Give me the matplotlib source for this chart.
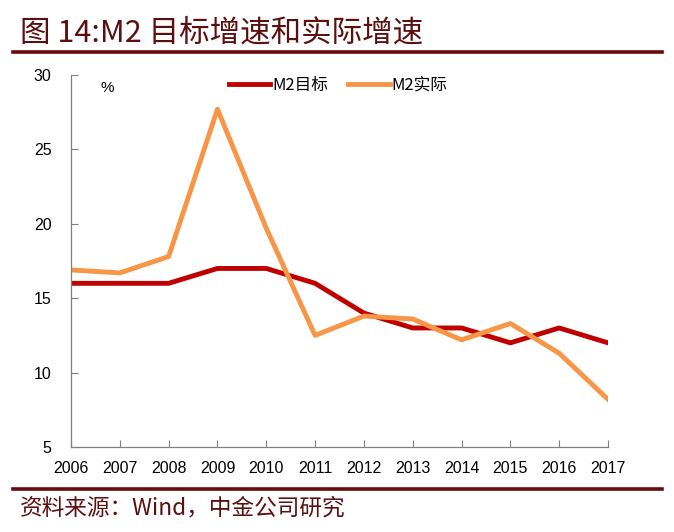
import matplotlib
matplotlib.use("Agg")
import matplotlib.pyplot as plt
from matplotlib.lines import Line2D

plt.rcParams['font.family'] = ['Liberation Sans', 'Noto Sans CJK SC', 'DejaVu Sans']

years = ['2006', '2007', '2008', '2009', '2010', '2011', '2012', '2013', '2014', '2015', '2016', '2017']
m2_target = [16, 16, 16, 17, 17, 16, 14, 13, 13, 12, 13, 12]
m2_actual = [16.9, 16.7, 17.8, 27.7, 19.7, 12.5, 13.8, 13.6, 12.2, 13.3, 11.3, 8.2]
yticks = [5, 10, 15, 20, 25, 30]

fig = plt.figure(figsize=(6.74, 5.32), dpi=100)
ax = fig.add_axes([71/674, 1-447/532, (608-71)/674, (447-75)/532])

x = list(range(len(years)))
ax.plot(x, m2_target, color='#C00000', lw=3.5, label='M2目标', solid_joinstyle='round')
ax.plot(x, m2_actual, color='#F79646', lw=3.5, label='M2实际', solid_joinstyle='round')

ax.set_xlim(0, len(years) - 1)
ax.set_ylim(5, 30)
ax.set_xticks(x)
ax.set_xticklabels(years)
ax.set_yticks(yticks)
ax.set_yticklabels([str(v) for v in yticks])

for s in ['top', 'right']:
    ax.spines[s].set_visible(False)
for s in ['left', 'bottom']:
    ax.spines[s].set_color('#808080')
    ax.spines[s].set_linewidth(0.9)
ax.tick_params(axis='both', direction='in', length=5, color='#808080', labelsize=11.5, labelcolor='#000000')
ax.tick_params(axis='y', pad=14)
ax.tick_params(axis='x', pad=10)

ax.text(0.055, 0.985, '%', transform=ax.transAxes, fontsize=11, ha='left', va='top')

leg = ax.legend(loc='upper center', bbox_to_anchor=(0.497, 1.035), ncol=2, frameon=False,
                prop={'family': ['Noto Sans CJK SC'], 'size': 12}, handlelength=2.5,
                columnspacing=1.2, handletextpad=0.1)

title_color = '#5B0F0F'
fig.text(20/674, 1-33/532, '图 14:M2 目标增速和实际增速', fontsize=22, color=title_color,
         family=['Noto Sans CJK SC'], style='italic', ha='left', va='center')
fig.add_artist(Line2D([13/674, 662/674], [1-52/532, 1-52/532], color='#6B0A0A', lw=2.6))
fig.add_artist(Line2D([13/674, 662/674], [1-489/532, 1-489/532], color='#6B0A0A', lw=2.6))
fig.text(20/674, 1-508/532, '资料来源：Wind，中金公司研究', fontsize=16.3, color=title_color,
         family=['Noto Sans CJK SC'], style='italic', ha='left', va='center')

fig.savefig('out.png', dpi=100, facecolor='white')
